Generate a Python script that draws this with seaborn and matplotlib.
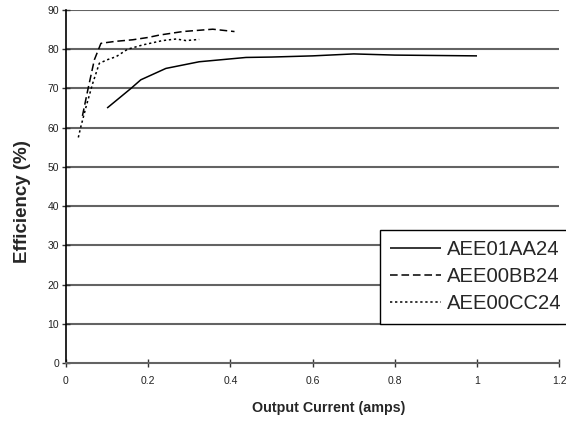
import matplotlib
matplotlib.use("Agg")
import matplotlib.pyplot as plt
import seaborn as sns
import pandas as pd

series_names = ["AEE01AA24", "AEE00BB24", "AEE00CC24"]

x_aa = [0.1, 0.158, 0.182, 0.243, 0.324, 0.438, 0.5, 0.6, 0.7, 0.8, 0.9, 1.0]
y_aa = [65, 70, 72.2, 75.1, 76.8, 77.9, 78, 78.3, 78.8, 78.5, 78.4, 78.3]

x_bb = [0.04, 0.053, 0.069, 0.085, 0.12, 0.162, 0.2, 0.227, 0.284, 0.357, 0.41]
y_bb = [63, 69.6, 77.3, 81.5, 82.0, 82.4, 83.0, 83.6, 84.5, 85.1, 84.5]

x_cc = [0.03, 0.036, 0.049, 0.065, 0.081, 0.1, 0.122, 0.15, 0.187, 0.235, 0.268, 0.292, 0.324]
y_cc = [57.5, 60.2, 65.4, 71.3, 76.4, 77.3, 78.1, 80.0, 81.1, 82.2, 82.6, 82.2, 82.5]

x_ticks = [0, 0.2, 0.4, 0.6, 0.8, 1, 1.2]
x_tick_labels = ["0", "0.2", "0.4", "0.6", "0.8", "1", "1.2"]
y_ticks = [0, 10, 20, 30, 40, 50, 60, 70, 80, 90]

frames = []
for name, xs, ys in zip(series_names, [x_aa, x_bb, x_cc], [y_aa, y_bb, y_cc]):
    frames.append(pd.DataFrame({"current": xs, "eff": ys, "model": name}))
df = pd.concat(frames, ignore_index=True)

sns.set_theme(style="white")
plt.rcParams["font.family"] = ["Liberation Sans", "DejaVu Sans"]

fig = plt.figure(figsize=(5.66, 4.23), dpi=100)
ax = fig.add_axes([0.1166, 0.1418, 0.8714, 0.8346])

styles = {"AEE01AA24": (0, ()), "AEE00BB24": (0, (5, 2.5)), "AEE00CC24": (0, (1.5, 1.8))}
for name in series_names:
    sub = df[df["model"] == name]
    sns.lineplot(data=sub, x="current", y="eff", ax=ax, color="black",
                 linewidth=1.1, linestyle=styles[name], label=name, sort=False)

ax.set_xlim(0, 1.2)
ax.set_ylim(0, 90)
ax.set_xticks(x_ticks)
ax.set_xticklabels(x_tick_labels)
ax.set_yticks(y_ticks)
for v in y_ticks[1:]:
    ax.axhline(v, color="#636363", linewidth=1.5, zorder=0)

for s in ["top", "right"]:
    ax.spines[s].set_visible(False)
ax.spines["left"].set_color("black")
ax.spines["left"].set_linewidth(1.2)
ax.spines["bottom"].set_color("#636363")
ax.spines["bottom"].set_linewidth(1.5)

ax.tick_params(axis="both", direction="inout", length=6, width=1, color="#333333",
               labelsize=7.5, labelcolor="#222222", left=True, bottom=True)
ax.tick_params(axis="x", pad=6)
ax.tick_params(axis="y", pad=2)

ax.set_xlabel("Output Current (amps)", fontsize=10.3, fontweight="bold")
ax.set_ylabel("Efficiency (%)", fontsize=13.5, fontweight="bold")
ax.xaxis.set_label_coords(0.533, -0.127)
ax.yaxis.set_label_coords(-0.089, 0.456)
ax.xaxis.label.set_va("center")
ax.yaxis.label.set_va("center")

leg = ax.legend(loc="upper left", bbox_to_anchor=(0.671, 0.456),
                bbox_transform=fig.transFigure, frameon=True, fancybox=False,
                fontsize=14.6, handlelength=2.5, handletextpad=0.3,
                borderpad=0.5, labelspacing=0.4, borderaxespad=0)
leg.get_frame().set_edgecolor("black")
leg.get_frame().set_linewidth(1.0)
leg.get_frame().set_alpha(1)

fig.savefig("out.png", dpi=100)
